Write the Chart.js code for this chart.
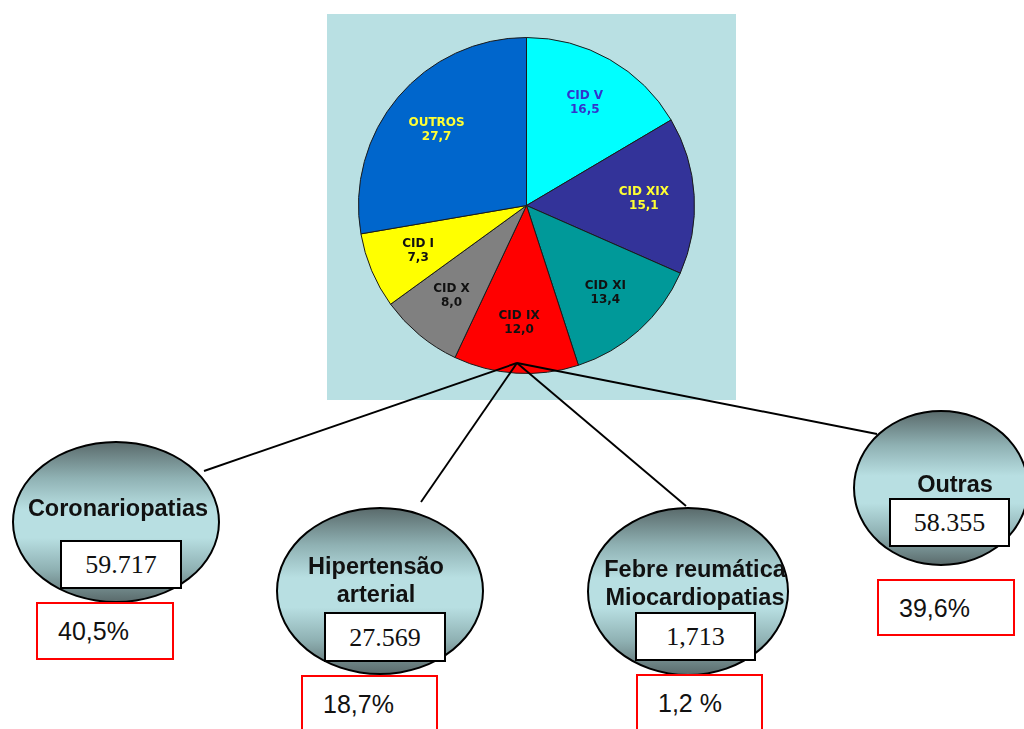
<!DOCTYPE html>
<html>
<head>
<meta charset="utf-8">
<script src="https://cdn.jsdelivr.net/npm/chart.js@4.4.1/dist/chart.umd.min.js"></script>
<style>
body{margin:0;width:1024px;height:729px;overflow:hidden;background:#fff;position:relative;font-family:"Liberation Sans",Arial,sans-serif;}
#panel{position:absolute;left:327px;top:14px;width:409px;height:386px;background:#b9e0e3;}
#lines{position:absolute;left:0;top:0;z-index:2;}
.oval{position:absolute;border:2px solid #000;border-radius:50%;box-sizing:border-box;z-index:1;
 background:linear-gradient(#5b6c6d 0%,#8fb1b3 22%,#b8dfe2 42%,#b8dfe2 60%,#8fb1b3 80%,#5b6c6d 100%);}
.name{position:absolute;width:240px;text-align:center;font-weight:bold;font-size:23.5px;line-height:28px;color:#111;z-index:3;}
.num{position:absolute;background:#fff;border:2px solid #000;box-sizing:border-box;font-family:"Liberation Serif","Times New Roman",serif;font-size:26px;text-align:center;color:#111;z-index:3;}
.pct{position:absolute;background:#fff;border:2px solid #f00;box-sizing:border-box;font-size:25px;padding-left:20px;color:#111;z-index:3;}
</style>
</head>
<body>
<div id="panel"><canvas id="pie" width="409" height="386"></canvas></div>
<svg id="lines" width="1024" height="729"></svg>
<script>
const sliceLabels=['CID V','CID XIX','CID XI','CID IX','CID X','CID I','OUTROS'];
const sliceValues=[16.5,15.1,13.4,12.0,8.0,7.3,27.7];
const sliceColors=['#00ffff','#333399','#009999','#ff0000','#808080','#ffff00','#0066cc'];
const labelColors=['#3333cc','#ffff33','#111','#111','#111','#111','#ffff33'];

const groupNames=[['Coronariopatias'],['Hipertensão','arterial'],['Febre reumática','Miocardiopatias'],['Outras']];
const groupCounts=['59.717','27.569','1,713','58.355'];
const groupShares=['40,5%','18,7%','1,2 %','39,6%'];

// where each group sits on the page
const layout=[
 {oval:[12,441,208,162],name:[118,508],num:[60,540,122,49],pct:[36,602,138,58],end:[204,471]},
 {oval:[276,507,208,168],name:[376,580],num:[324,612,122,50],pct:[301,675,137,58],end:[421,502]},
 {oval:[587,507,202,169],name:[695,583],num:[635,612,121,49],pct:[636,674,127,58],end:[686,506]},
 {oval:[853,410,176,156],name:[955,484],num:[889,498,121,49],pct:[877,579,138,57],end:[877,434]}
];
const hub=[517,363];

function box(cls,r,text){
 const d=document.createElement('div');
 d.className=cls;
 d.style.left=r[0]+'px';d.style.top=r[1]+'px';d.style.width=r[2]+'px';d.style.height=r[3]+'px';
 if(text!==undefined){d.textContent=text;d.style.lineHeight=(r[3]-3)+'px';}
 document.body.appendChild(d);
 return d;
}

const svg=document.getElementById('lines');
layout.forEach((g,i)=>{
 const ln=document.createElementNS('http://www.w3.org/2000/svg','line');
 ln.setAttribute('x1',hub[0]);ln.setAttribute('y1',hub[1]);
 ln.setAttribute('x2',g.end[0]);ln.setAttribute('y2',g.end[1]);
 ln.setAttribute('stroke','#000');ln.setAttribute('stroke-width','1.9');
 svg.appendChild(ln);

 box('oval',g.oval);
 const n=document.createElement('div');
 n.className='name';
 n.innerHTML=groupNames[i].join('<br>');
 n.style.left=(g.name[0]-120)+'px';
 n.style.top=(g.name[1]-groupNames[i].length*14)+'px';
 document.body.appendChild(n);
 box('num',g.num,groupCounts[i]);
 box('pct',g.pct,groupShares[i]);
});

const sliceText={
 id:'sliceText',
 afterDatasetsDraw(chart){
  const ctx=chart.ctx;
  chart.getDatasetMeta(0).data.forEach((arc,i)=>{
   const p=arc.getProps(['x','y','startAngle','endAngle','outerRadius'],true);
   const a=(p.startAngle+p.endAngle)/2;
   const r=p.outerRadius*0.7;
   const x=p.x+Math.cos(a)*r, y=p.y+Math.sin(a)*r;
   ctx.save();
   ctx.font='bold 12px "DejaVu Sans"';
   ctx.fillStyle=labelColors[i];
   ctx.textAlign='center';
   ctx.textBaseline='middle';
   ctx.fillText(sliceLabels[i],x,y-7);
   ctx.fillText(sliceValues[i].toFixed(1).replace('.',','),x,y+7);
   ctx.restore();
  });
 }
};

new Chart(document.getElementById('pie'),{
 type:'pie',
 data:{
  labels:sliceLabels,
  datasets:[{data:sliceValues,backgroundColor:sliceColors,borderColor:'#1a1a1a',borderWidth:1}]
 },
 options:{
  responsive:false,
  animation:false,
  layout:{padding:{left:31,right:41,top:23,bottom:26}},
  plugins:{legend:{display:false},tooltip:{enabled:false}}
 },
 plugins:[sliceText]
});
</script>
</body>
</html>
